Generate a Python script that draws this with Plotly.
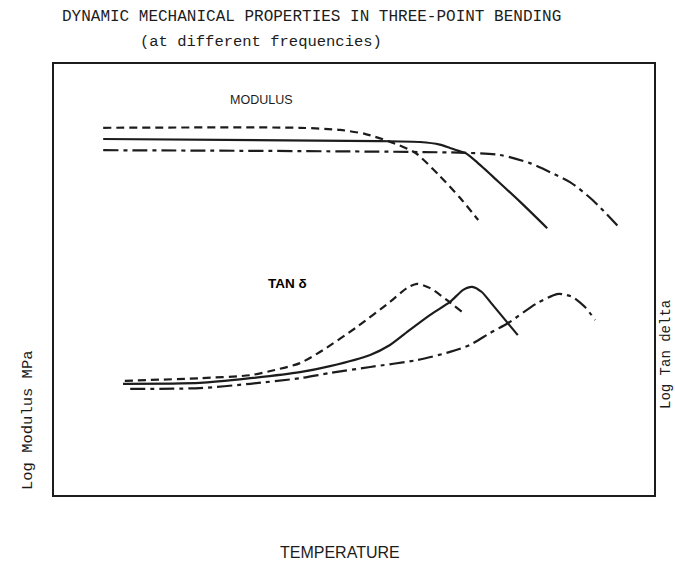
import plotly.graph_objects as go

# ---- data (arbitrary temperature / log units) ----
mod_dash_T = [8.2, 41.0, 47.7, 51.8, 55.7, 60.2, 64.3, 67.7, 70.7]
mod_dash_V = [85.2, 85.2, 84.7, 83.8, 82.1, 79.4, 74.0, 68.9, 63.8]

mod_solid_T = [8.2, 54.3, 61.0, 64.3, 66.0, 67.3, 68.5, 70.2, 71.8, 73.2, 77.7, 82.2]
mod_solid_V = [82.6, 82.1, 81.9, 81.3, 80.5, 79.9, 79.4, 77.6, 75.6, 73.8, 68.0, 61.9]

mod_dashdot_T = [8.2, 68.5, 74.3, 79.3, 82.7, 86.0, 89.8, 94.3]
mod_dashdot_V = [80.0, 79.4, 78.9, 77.0, 74.9, 72.6, 68.4, 61.9]

tan_dash_T = [11.8, 24.3, 32.7, 36.8, 41.0, 44.8, 50.5, 56.0, 58.8, 60.5, 62.7, 65.5, 68.0]
tan_dash_V = [26.5, 27.1, 27.8, 29.0, 30.6, 33.6, 39.0, 44.8, 48.0, 49.0, 48.0, 45.2, 42.5]

tan_solid_T = [11.5, 24.3, 32.7, 41.0, 46.0, 52.7, 56.0, 59.3, 62.7, 66.0, 68.2, 69.7, 71.3, 72.7, 75.5, 77.3]
tan_solid_V = [25.8, 26.0, 27.1, 28.5, 29.9, 32.5, 34.8, 38.3, 41.8, 44.8, 47.6, 48.3, 47.1, 44.8, 40.1, 37.1]

tan_dashdot_T = [12.7, 24.3, 32.7, 41.0, 46.0, 52.7, 60.5, 66.0, 69.3, 72.7, 75.7, 80.5, 83.8, 84.7, 86.5, 88.5, 90.2]
tan_dashdot_V = [24.6, 24.8, 25.8, 27.1, 28.3, 29.7, 31.3, 33.2, 34.8, 37.6, 39.9, 44.5, 46.6, 46.6, 45.9, 43.6, 40.6]

title_1 = "DYNAMIC MECHANICAL PROPERTIES IN THREE-POINT BENDING"
title_2 = "(at different frequencies)"
label_modulus = "MODULUS"
label_tan = "TAN δ"
y_left_title = "Log Modulus MPa"
y_right_title = "Log Tan delta"
x_title = "TEMPERATURE"

# ---- styles ----
INK = "#1c1c1c"
W, H = 675, 569
DASH = "8px,5px"
DASHDOT = "15px,5px,4px,5px"

series = [
    (mod_dash_T, mod_dash_V, DASH),
    (mod_solid_T, mod_solid_V, "solid"),
    (mod_dashdot_T, mod_dashdot_V, DASHDOT),
    (tan_dash_T, tan_dash_V, DASH),
    (tan_solid_T, tan_solid_V, "solid"),
    (tan_dashdot_T, tan_dashdot_V, DASHDOT),
]

fig = go.Figure()
for xs, ys, dash in series:
    fig.add_trace(go.Scatter(
        x=xs, y=ys, mode="lines",
        line=dict(color=INK, width=2.2, dash=dash, shape="spline", smoothing=0.7),
        showlegend=False, hoverinfo="skip",
    ))

# plot box in pixels: x 54..654, y 64..495
box_l, box_r, box_t, box_b = 54, 654, 64, 495

def px(x):
    return x / W

def py(y):
    return 1 - y / H

axis_common = dict(showgrid=False, zeroline=False, showticklabels=False, ticks="",
                   showline=True, mirror=True, linecolor=INK, linewidth=2.2,
                   fixedrange=True)
fig.update_xaxes(range=[0, 100], domain=[px(box_l), px(box_r)], **axis_common)
fig.update_yaxes(range=[0, 100], domain=[py(box_b), py(box_t)], **axis_common)

MONO = "Liberation Mono, Courier New, monospace"
SANS = "Liberation Sans, Arial, sans-serif"

ann = [
    dict(text=title_1, x=px(311), y=py(17), font=dict(family=MONO, size=16, color=INK)),
    dict(text=title_2, x=px(261), y=py(42), font=dict(family=MONO, size=15.5, color=INK)),
    dict(text=label_modulus, x=px(261), y=py(100), font=dict(family=SANS, size=12.5, color=INK)),
    dict(text="<b>" + label_tan + "</b>", x=px(287), y=py(283), font=dict(family=SANS, size=13.5, color="#000000")),
    dict(text=y_left_title, x=px(28), y=py(420), textangle=-90, font=dict(family=MONO, size=15.5, color=INK)),
    dict(text=y_right_title, x=px(666), y=py(355), textangle=-90, font=dict(family=MONO, size=14, color=INK)),
    dict(text=x_title, x=px(340), y=py(552), font=dict(family=SANS, size=16, color=INK)),
]
for a in ann:
    fig.add_annotation(xref="paper", yref="paper", showarrow=False,
                       xanchor="center", yanchor="middle", **a)

fig.update_layout(
    width=W, height=H, autosize=False,
    margin=dict(l=0, r=0, t=0, b=0),
    paper_bgcolor="white", plot_bgcolor="white",
)

fig.write_html(
    "out.html",
    config={"displayModeBar": False, "staticPlot": True},
    post_script="document.body.style.margin='0';document.body.style.overflow='hidden';",
)
